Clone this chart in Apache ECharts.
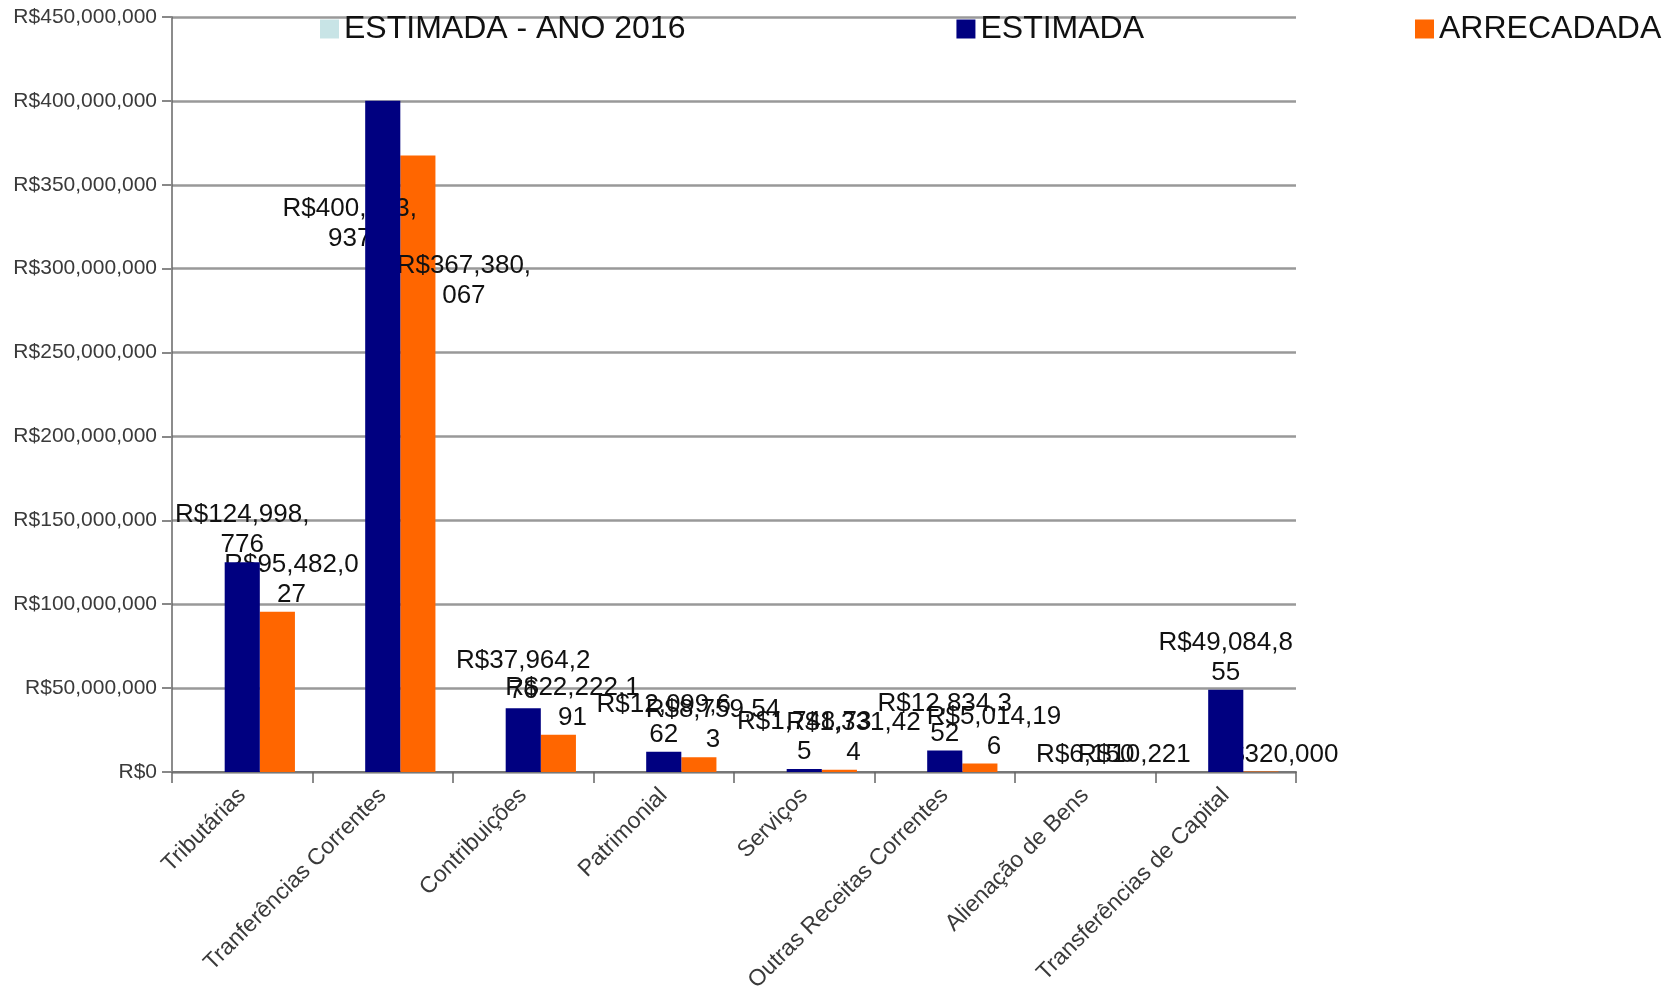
<!DOCTYPE html>
<html>
<head>
<meta charset="utf-8">
<script src="https://cdn.jsdelivr.net/npm/echarts@6/dist/echarts.min.js"></script>
<style>html,body{margin:0;padding:0;background:#fff}#c{width:1672px;height:992px}</style>
</head>
<body>
<div id="c"></div>
<script>
const categories = ['Tributárias', 'Tranferências Correntes', 'Contribuições', 'Patrimonial', 'Serviços', 'Outras Receitas Correntes', 'Alienação de Bens', 'Transferências de Capital'];
const estimada2016 = [null, null, null, null, null, null, null, null];
const estimada = [124998776, 400013937, 37964276, 12099662, 1748735, 12834352, 6150, 49084855];
const arrecadada = [95482027, 367380067, 22222191, 8759543, 1331424, 5014196, 10221, 320000];
const seriesNames = ['ESTIMADA - ANO 2016', 'ESTIMADA', 'ARRECADADA'];
const yMax = 450000000, yStep = 50000000;

const FONT = 'Liberation Sans, Arial, sans-serif';
function money(v) { return 'R$' + Number(v).toLocaleString('en-US'); }
function wrapLabel(p) {
  const s = money(p.value);
  return s.length > 10 ? s.slice(0, 10) + '\n' + s.slice(10) : s;
}
const labelBase = { show: true, position: 'top', distance: 2, formatter: wrapLabel,
  fontFamily: FONT, fontSize: 26, lineHeight: 30, color: '#111' };

// blue label of the 2nd category sits lower and is drawn behind the blue bar
const hiddenBlueIdx = 1;
const blueData = estimada.map((v, i) => i === hiddenBlueIdx ? { value: v, label: { show: false } } : v);
const orangeData = arrecadada.map((v, i) => i === 1 ? { value: v, label: { offset: [46, 157] } } : v);
const behindLabelData = estimada.map((v, i) => i === hiddenBlueIdx ? v : '-');

const chart = echarts.init(document.getElementById('c'), null, { renderer: 'canvas' });
chart.setOption({
  animation: false,
  backgroundColor: '#fff',
  grid: { left: 172, right: 376, top: 17, bottom: 220, containLabel: false, outerBoundsMode: 'none' },
  legend: {
    data: seriesNames, left: 315, top: 8, itemGap: 271, itemWidth: 19, itemHeight: 19,
    icon: 'rect', textStyle: { fontFamily: FONT, fontSize: 32, color: '#111' }
  },
  xAxis: {
    type: 'category', data: categories,
    axisLine: { lineStyle: { color: '#777', width: 2 } },
    axisTick: { show: true, length: 11, lineStyle: { color: '#666', width: 1.5 } },
    axisLabel: { rotate: 45, margin: 20, fontFamily: FONT, fontSize: 23, color: '#3a3a3a', interval: 0 }
  },
  yAxis: {
    type: 'value', min: 0, max: yMax, interval: yStep,
    axisLine: { show: true, lineStyle: { color: '#666', width: 1.5 } },
    axisTick: { show: true, length: 10, lineStyle: { color: '#888', width: 2 } },
    splitLine: { lineStyle: { color: '#999', width: 2.5 } },
    axisLabel: { margin: 15, fontFamily: FONT, fontSize: 21, color: '#3a3a3a', formatter: v => money(v) }
  },
  series: [
    { name: seriesNames[0], type: 'bar', data: estimada2016, barGap: '0%', barCategoryGap: '25%',
      itemStyle: { color: '#c8e4e6' }, z: 2 },
    { name: seriesNames[1], type: 'bar', data: blueData, barGap: '0%', barCategoryGap: '25%',
      itemStyle: { color: '#000080' }, label: labelBase, z: 3 },
    { name: seriesNames[2], type: 'bar', data: orangeData, barGap: '0%', barCategoryGap: '25%',
      itemStyle: { color: '#ff6600' }, label: Object.assign({}, labelBase, { offset: [14, 0] }), z: 1 },
    { name: 'behind', type: 'scatter', data: behindLabelData, symbolSize: 0, z: 2, silent: true,
      itemStyle: { opacity: 1 },
      label: Object.assign({}, labelBase, { position: 'inside', offset: [-33, 123] }) }
  ]
});
</script>
</body>
</html>
